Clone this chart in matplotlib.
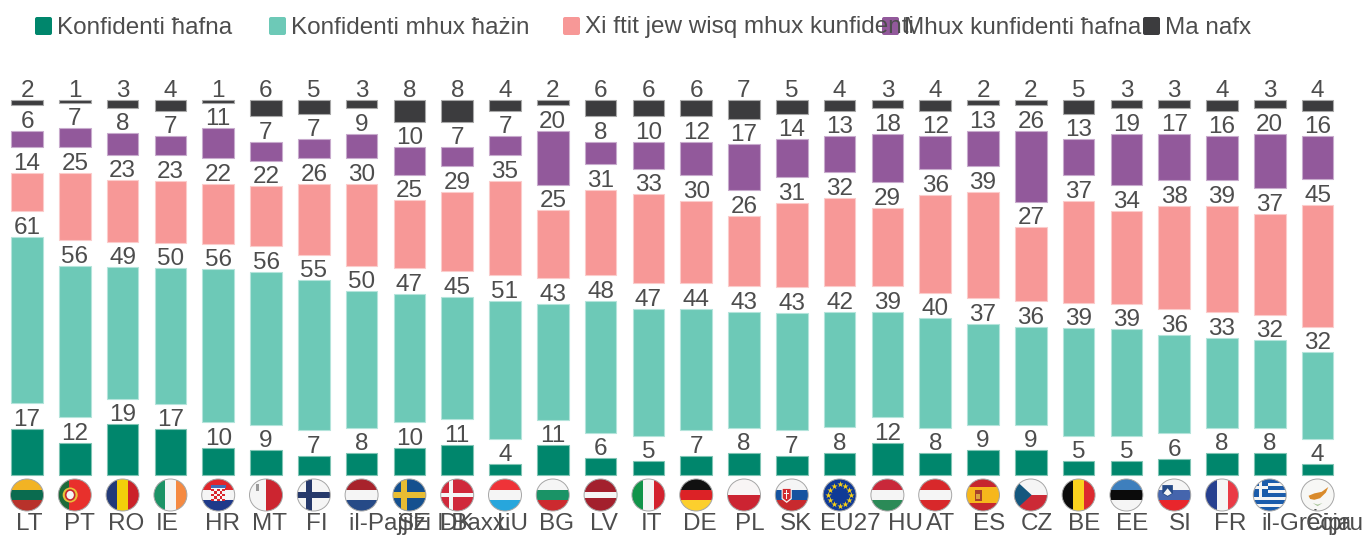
import numpy as np
import matplotlib
matplotlib.use("Agg")
import matplotlib.pyplot as plt
from matplotlib.patches import Rectangle, Ellipse, Polygon, FancyBboxPatch

plt.rcParams['font.family'] = ['Liberation Sans', 'DejaVu Sans']

codes = ["LT", "PT", "RO", "IE", "HR", "MT", "FI", "NL", "SE", "DK", "LU", "BG", "LV", "IT",
         "DE", "PL", "SK", "EU", "HU", "AT", "ES", "CZ", "BE", "EE", "SI", "FR", "EL", "CY"]
tick_labels = ["LT", "PT", "RO", "IE", "HR", "MT", "FI", "il-Pajjiżi l-Baxxi", "SE", "DK", "LU", "BG", "LV", "IT",
               "DE", "PL", "SK", "EU27", "HU", "AT", "ES", "CZ", "BE", "EE", "SI", "FR", "il-Greċja", "Ċipru"]

series_names = ["Konfidenti ħafna", "Konfidenti mhux ħażin", "Xi ftit jew wisq mhux kunfidenti",
                "Mhux kunfidenti ħafna", "Ma nafx"]
very = [17, 12, 19, 17, 10, 9, 7, 8, 10, 11, 4, 11, 6, 5, 7, 8, 7, 8, 12, 8, 9, 9, 5, 5, 6, 8, 8, 4]
fairly = [61, 56, 49, 50, 56, 56, 55, 50, 47, 45, 51, 43, 48, 47, 44, 43, 43, 42, 39, 40, 37, 36, 39, 39, 36, 33, 32, 32]
little = [14, 25, 23, 23, 22, 22, 26, 30, 25, 29, 35, 25, 31, 33, 30, 26, 31, 32, 29, 36, 39, 27, 37, 34, 38, 39, 37, 45]
not_at_all = [6, 7, 8, 7, 11, 7, 7, 9, 10, 7, 7, 20, 8, 10, 12, 17, 14, 13, 18, 12, 13, 26, 13, 19, 17, 16, 20, 16]
dont_know = [2, 1, 3, 4, 1, 6, 5, 3, 8, 8, 4, 2, 6, 6, 6, 7, 5, 4, 3, 4, 2, 2, 5, 3, 3, 4, 3, 4]

colors = ["#00866c", "#6dc9b7", "#f79897", "#92599b", "#3c3c3e"]
edges = ["#7fc4b4", "#b4e4db", "#fbcccb", "#c8abcd", "#a8a8a8"]
text_color = "#4d4d4d"

# left edge of the axis labels, they are not centred in the original
label_left = [16, 64, 108, 156, 205, 252, 306, 349, 398, 440, 497, 539, 590, 641,
              683, 735, 780, 820, 888, 926, 973, 1021, 1068, 1116, 1169, 1214, 1261, 1306]
legend_left = [35, 269, 563, 882, 1143]

W, H = 1365, 535
fig = plt.figure(figsize=(W / 100, H / 100), dpi=100)
ax = fig.add_axes([0, 0, 1, 1])

# bars: value axis, 0 sits at y=475px
step = 47.8
scale = 2.73
gap = 9.35
ax.set_xlim(-27 / step, (W - 27) / step)
ax.set_ylim(-(H - 475) / scale, 475 / scale)
ax.axis('off')

x = np.arange(len(codes))
rows = np.array([very, fairly, little, not_at_all, dont_know], dtype=float)
shares = rows / rows.sum(axis=0) * 100  # rounded values don't always add up to 100

bottom = np.zeros(len(codes))
for i in range(5):
    ax.bar(x, shares[i], 0.66, bottom=bottom, color=colors[i], edgecolor=edges[i], linewidth=0.8)
    tops = bottom + shares[i]
    for k in range(len(codes)):
        ax.annotate(str(int(rows[i][k])), (x[k], tops[k]), xytext=(0, 3), textcoords='offset pixels',
                    ha='center', va='baseline', fontsize=17.5, color=text_color)
    bottom = tops + gap

# second axes in pixels for legend, flags and labels
over = fig.add_axes([0, 0, 1, 1])
over.set_xlim(0, W)
over.set_ylim(H, 0)
over.axis('off')
over.patch.set_alpha(0)

for i, name in enumerate(series_names):
    over.add_patch(FancyBboxPatch((legend_left[i] + 2, 19), 13, 14, boxstyle="round,pad=2",
                                  color=colors[i], lw=0, zorder=2))
    over.text(legend_left[i] + 22, 33.5, name, fontsize=17.5, color=text_color, va='baseline', ha='left', zorder=3)

for k, label in enumerate(tick_labels):
    over.text(label_left[k], 530, label, fontsize=17.5, color=text_color, va='baseline', ha='left')

RED = "#c8262f"
BLUE = "#264a87"
flag_stripes = {
    "LT": ("h", ["#f2b324", "#0a6b4f", "#b8322b"]),
    "PT": ("v", ["#1c6b3a", "#e8302c", "#e8302c"]),
    "RO": ("v", ["#223a78", "#f2cf0a", "#cb2229"]),
    "IE": ("v", ["#1c9366", "#f5f5f5", "#f58a42"]),
    "HR": ("h", ["#e0262c", "#f5f5f5", "#1f3a8a"]),
    "MT": ("v", ["#f5f5f5", "#cc2530"]),
    "FI": ("h", ["#f5f5f5"]),
    "NL": ("h", ["#a8232c", "#f5f5f5", "#264a87"]),
    "SE": ("h", ["#15508f"]),
    "DK": ("h", ["#d0293b"]),
    "LU": ("h", ["#ee3338", "#f5f5f5", "#27a6dc"]),
    "BG": ("h", ["#f5f5f5", "#1a9366", "#cc2a2f"]),
    "LV": ("h", ["#a3202d", "#a3202d", "#f5f5f5", "#a3202d", "#a3202d"]),
    "IT": ("v", ["#11944a", "#f5f5f5", "#d3222e"]),
    "DE": ("h", ["#111111", "#dc2226", "#fccf2d"]),
    "PL": ("h", ["#f8f5f5", "#cc2432"]),
    "SK": ("h", ["#f5f5f5", "#1553a0", "#c82a2e"]),
    "EU": ("h", ["#0f3a96"]),
    "HU": ("h", ["#c9283a", "#f5f5f5", "#2b8a57"]),
    "AT": ("h", ["#d8282b", "#f5f5f5", "#d8282b"]),
    "ES": ("h", ["#c6272e", "#f6b71c", "#f6b71c", "#c6272e"]),
    "CZ": ("h", ["#f5f5f5", "#cc2a36"]),
    "BE": ("v", ["#0b0b0b", "#fad21e", "#dc2a2f"]),
    "EE": ("h", ["#3e7fbd", "#0b0b0b", "#f5f5f5"]),
    "SI": ("h", ["#f5f5f5", "#4565ad", "#e8262c"]),
    "FR": ("v", ["#27408f", "#f5f5f5", "#ea3a45"]),
    "EL": ("h", ["#1b5cab", "#f5f5f5"] * 4 + ["#1b5cab"]),
    "CY": ("h", ["#f7f7f5"]),
}


def draw_flag(code, cx, cy=495.0, rx=16.5, ry=16.0):
    clip = Ellipse((cx, cy), 2 * rx, 2 * ry, transform=over.transData)

    def rect(u0, v0, u1, v1, color):
        p = Rectangle((cx + u0 * rx, cy + v0 * ry), (u1 - u0) * rx, (v1 - v0) * ry, color=color, lw=0)
        over.add_patch(p)
        p.set_clip_path(clip)

    def poly(pts, color):
        p = Polygon([(cx + u * rx, cy + v * ry) for u, v in pts], color=color, lw=0)
        over.add_patch(p)
        p.set_clip_path(clip)

    way, cols = flag_stripes[code]
    n = len(cols)
    for i, c in enumerate(cols):
        a, b = -1 + 2 * i / n, -1 + 2 * (i + 1) / n
        if way == "h":
            rect(-1, a, 1, b, c)
        else:
            rect(a, -1, b, 1, c)

    if code == "FI":
        rect(-1, -0.2, 1, 0.2, "#26396b")
        rect(-0.5, -1, -0.12, 1, "#26396b")
    elif code == "SE":
        rect(-1, -0.2, 1, 0.2, "#e8bd33")
        rect(-0.5, -1, -0.12, 1, "#e8bd33")
    elif code == "DK":
        rect(-1, -0.13, 1, 0.13, "#f5f5f5")
        rect(-0.5, -1, -0.24, 1, "#f5f5f5")
    elif code == "HR":
        rect(-0.42, -0.5, 0.42, 0.4, "#f5f5f5")
        for r in range(5):
            for q in range(5):
                if (r + q) % 2 == 0:
                    rect(-0.42 + q * 0.168, -0.4 + r * 0.16, -0.252 + q * 0.168, -0.24 + r * 0.16, "#d9262c")
        rect(-0.45, -0.62, 0.45, -0.42, "#3f6db5")
    elif code == "PT":
        over.add_patch(Ellipse((cx - 0.28 * rx, cy), 15, 15, color="#e8c23a", lw=0, zorder=2))
        over.add_patch(Ellipse((cx - 0.28 * rx, cy), 9, 10, color="#f5f5f5", ec="#c8262f", lw=1.2, zorder=3))
    elif code == "MT":
        rect(-0.62, -0.7, -0.42, -0.25, "#9a9a9a")
    elif code == "SK":
        poly([(-0.62, -0.45), (0.0, -0.45), (0.0, 0.25), (-0.31, 0.5), (-0.62, 0.25)], "#f5f5f5")
        poly([(-0.55, -0.38), (-0.07, -0.38), (-0.07, 0.2), (-0.31, 0.4), (-0.55, 0.2)], "#d2282e")
        rect(-0.35, -0.3, -0.27, 0.25, "#f5f5f5")
        rect(-0.47, -0.15, -0.15, -0.05, "#f5f5f5")
    elif code == "EU":
        t = np.arange(12) * np.pi / 6
        over.scatter(cx + 0.68 * rx * np.cos(t), cy + 0.68 * ry * np.sin(t), marker='*', s=22,
                     color="#f7d117", linewidths=0, zorder=2)
    elif code == "ES":
        rect(-0.5, -0.3, -0.08, 0.35, "#a8412b")
        rect(-0.42, -0.05, -0.16, 0.25, "#d9a441")
    elif code == "CZ":
        poly([(-1, -1), (0.05, 0), (-1, 1)], "#14577e")
    elif code == "SI":
        poly([(-0.72, -0.62), (-0.08, -0.62), (-0.08, -0.1), (-0.4, 0.12), (-0.72, -0.1)], BLUE)
        poly([(-0.65, -0.1), (-0.4, -0.42), (-0.15, -0.1), (-0.4, 0.05)], "#f5f5f5")
    elif code == "EL":
        rect(-1, -1, -0.1, 0.1, "#1b5cab")
        rect(-1, -0.55, -0.1, -0.35, "#f5f5f5")
        rect(-0.65, -1, -0.45, 0.1, "#f5f5f5")
    elif code == "CY":
        poly([(-0.55, 0.05), (-0.2, -0.1), (0.25, -0.2), (0.65, -0.5), (0.5, -0.15),
              (0.15, 0.2), (-0.2, 0.3), (-0.45, 0.25)], "#d98a2b")
        poly([(-0.3, 0.5), (0.0, 0.7), (0.3, 0.5), (0.0, 0.6)], "#a9c49a")

    over.add_patch(Ellipse((cx, cy), 2 * rx, 2 * ry, fill=False, ec="#a6a6a6", lw=0.7, zorder=4))


for k, code in enumerate(codes):
    draw_flag(code, 27 + k * step)

fig.savefig("out.png", dpi=100)
